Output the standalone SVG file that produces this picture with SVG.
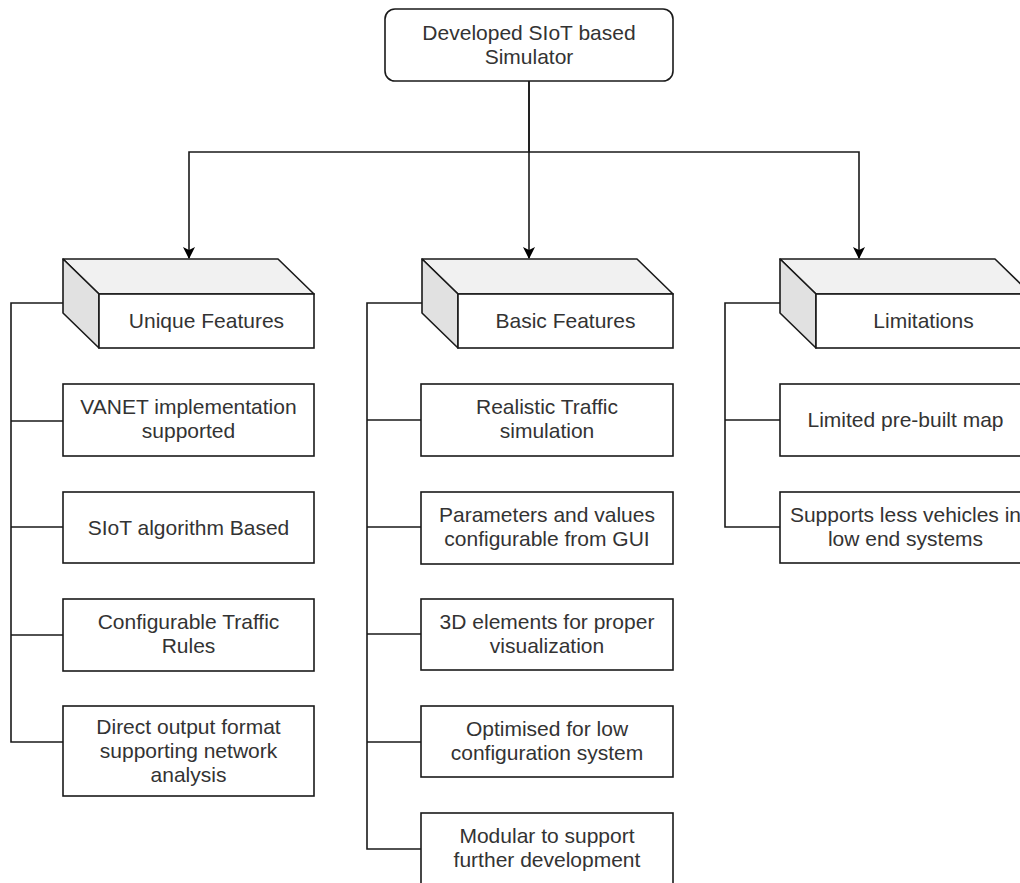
<svg xmlns="http://www.w3.org/2000/svg" width="1020" height="883" viewBox="0 0 1020 883">
<defs>
<style>
.bx{fill:#fff;stroke:#1a1a1a;stroke-width:1.6}
.top{fill:#f1f1f1;stroke:#1a1a1a;stroke-width:1.6;stroke-linejoin:round}
.side{fill:#e1e1e1;stroke:#1a1a1a;stroke-width:1.6;stroke-linejoin:round}
.ln{fill:none;stroke:#1a1a1a;stroke-width:1.6}
text{font-family:"Liberation Sans",Arial,Helvetica,sans-serif;font-size:21px;fill:#333;text-anchor:middle}
</style>
<marker id="arr" markerUnits="userSpaceOnUse" viewBox="0 0 12 12" refX="11" refY="6" markerWidth="12" markerHeight="12" orient="auto">
<path d="M0,0 L12,6 L0,12 L3,6 Z" fill="#000"/>
</marker>
</defs>
<rect width="1020" height="883" fill="#fff"/>

<g id="connectors">
<path class="ln" d="M529,81 V152 H189 V258" marker-end="url(#arr)"/>
<path class="ln" d="M529,81 V258" marker-end="url(#arr)"/>
<path class="ln" d="M529,152 H859 V258" marker-end="url(#arr)"/>
<path class="ln" d="M63,303 H11 V742 H63 M11,421 H63 M11,527 H63 M11,635 H63"/>
<path class="ln" d="M422,303 H367 V849 H421 M367,420 H421 M367,527 H421 M367,634 H421 M367,742 H421"/>
<path class="ln" d="M780,303 H725 V527 H780 M725,420 H780"/>
</g>

<g id="root">
<rect class="bx" x="385" y="9" width="288" height="72" rx="10"/>
<text x="529" y="40">Developed SIoT based</text>
<text x="529" y="64">Simulator</text>
</g>

<g id="unique-features">
<path class="top" d="M63,259 H278 L314,294 H99 Z"/>
<path class="side" d="M63,259 L99,294 V348 L63,313 Z"/>
<rect class="bx" x="99" y="294" width="215" height="54"/>
<text x="206.5" y="328">Unique Features</text>
</g>
<g id="basic-features">
<path class="top" d="M422,259 H637 L673,294 H458 Z"/>
<path class="side" d="M422,259 L458,294 V348 L422,313 Z"/>
<rect class="bx" x="458" y="294" width="215" height="54"/>
<text x="565.5" y="328">Basic Features</text>
</g>
<g id="limitations">
<path class="top" d="M780,259 H995 L1031,294 H816 Z"/>
<path class="side" d="M780,259 L816,294 V348 L780,313 Z"/>
<rect class="bx" x="816" y="294" width="215" height="54"/>
<text x="923.5" y="328">Limitations</text>
</g>

<g id="u1"><rect class="bx" x="63" y="384" width="251" height="72"/><text x="188.5" y="414">VANET implementation</text><text x="188.5" y="438">supported</text></g>
<g id="u2"><rect class="bx" x="63" y="492" width="251" height="71"/><text x="188.5" y="535">SIoT algorithm Based</text></g>
<g id="u3"><rect class="bx" x="63" y="599" width="251" height="72"/><text x="188.5" y="629">Configurable Traffic</text><text x="188.5" y="653">Rules</text></g>
<g id="u4"><rect class="bx" x="63" y="706" width="251" height="90"/><text x="188.5" y="734">Direct output format</text><text x="188.5" y="758">supporting network</text><text x="188.5" y="782">analysis</text></g>

<g id="b1"><rect class="bx" x="421" y="384" width="252" height="72"/><text x="547" y="414">Realistic Traffic</text><text x="547" y="438">simulation</text></g>
<g id="b2"><rect class="bx" x="421" y="492" width="252" height="72"/><text x="547" y="522">Parameters and values</text><text x="547" y="546">configurable from GUI</text></g>
<g id="b3"><rect class="bx" x="421" y="599" width="252" height="71"/><text x="547" y="629">3D elements for proper</text><text x="547" y="653">visualization</text></g>
<g id="b4"><rect class="bx" x="421" y="706" width="252" height="71"/><text x="547" y="736">Optimised for low</text><text x="547" y="760">configuration system</text></g>
<g id="b5"><rect class="bx" x="421" y="813" width="252" height="72"/><text x="547" y="843">Modular to support</text><text x="547" y="867">further development</text></g>

<g id="l1"><rect class="bx" x="780" y="384" width="251" height="72"/><text x="905.5" y="427">Limited pre-built map</text></g>
<g id="l2"><rect class="bx" x="780" y="492" width="251" height="71"/><text x="905.5" y="522">Supports less vehicles in</text><text x="905.5" y="546">low end systems</text></g>
</svg>
